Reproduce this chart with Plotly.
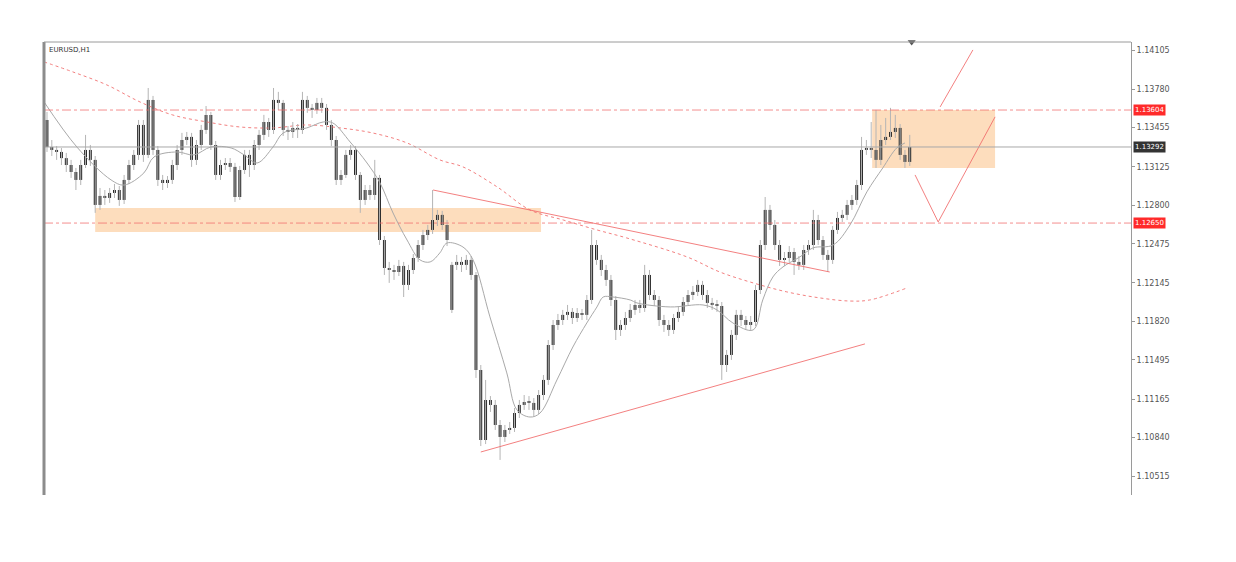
import plotly.graph_objects as go

# ---------------- data (EURUSD H1) ----------------
first_open = 1.13520
gap_index = 84
gap_open = 1.11917

closes = [
 1.13292,1.13267,1.13250,1.13198,1.13140,1.13081,1.13014,1.13140,1.13267,1.13183,
 1.12803,1.12879,1.12862,1.12904,1.12929,1.12845,1.13014,1.13140,1.13225,1.13478,
 1.13225,1.13689,1.13267,1.13014,1.12988,1.13014,1.13140,1.13267,1.13351,1.13377,
 1.13183,1.13309,1.13436,1.13562,1.13309,1.13056,1.13140,1.13157,1.13124,1.12870,
 1.13098,1.13225,1.13140,1.13309,1.13394,1.13503,1.13436,1.13689,1.13664,1.13436,
 1.13419,1.13453,1.13436,1.13689,1.13622,1.13605,1.13664,1.13622,1.13478,1.13351,
 1.13014,1.13056,1.13225,1.13267,1.13056,1.12845,1.12929,1.12887,1.13031,1.12507,
 1.12271,1.12254,1.12237,1.12288,1.12128,1.12254,1.12355,1.12465,1.12549,1.12592,
 1.12676,1.12719,1.12634,1.12507,1.12297,1.12322,1.12297,1.12339,1.12212,1.11410,
 1.10819,1.11157,1.11115,1.10946,1.10845,1.10904,1.10921,1.11047,1.11115,1.11140,
 1.11132,1.11073,1.11199,1.11326,1.11621,1.11790,1.11832,1.11875,1.11900,1.11849,
 1.11891,1.11875,1.12001,1.12465,1.12339,1.12254,1.12170,1.12001,1.11748,1.11790,
 1.11849,1.11917,1.11959,1.11933,1.12212,1.12043,1.12001,1.11832,1.11790,1.11748,
 1.11849,1.11900,1.11984,1.12043,1.12069,1.12128,1.12043,1.11976,1.11959,1.11950,
 1.11452,1.11537,1.11706,1.11875,1.11832,1.11790,1.11815,1.12085,1.12465,1.12761,
 1.12634,1.12465,1.12339,1.12355,1.12406,1.12322,1.12297,1.12423,1.12465,1.12676,
 1.12507,1.12381,1.12339,1.12592,1.12693,1.12719,1.12803,1.12845,1.12971,1.13267,
 1.13284,1.13267,1.13183,1.13351,1.13377,1.13419,1.13453,1.13225,1.13166,1.13292,
]

highs = [
 1.13588,1.13351,1.13300,1.13283,1.13242,1.13183,1.13115,1.13183,1.13394,1.13309,
 1.13216,1.12946,1.12929,1.12946,1.12980,1.12963,1.13056,1.13183,1.13267,1.13520,
 1.13520,1.13790,1.13723,1.13300,1.13056,1.13047,1.13183,1.13309,1.13411,1.13419,
 1.13411,1.13351,1.13478,1.13638,1.13588,1.13343,1.13183,1.13199,1.13199,1.13158,
 1.13132,1.13267,1.13267,1.13351,1.13436,1.13563,1.13537,1.13790,1.13757,1.13689,
 1.13469,1.13503,1.13486,1.13757,1.13723,1.13655,1.13706,1.13706,1.13655,1.13520,
 1.13385,1.13098,1.13267,1.13309,1.13300,1.13081,1.12971,1.12971,1.13183,1.13056,
 1.12541,1.12322,1.12297,1.12339,1.12322,1.12297,1.12389,1.12507,1.12592,1.12634,
 1.12929,1.12761,1.12753,1.12676,1.12322,1.12381,1.12364,1.12381,1.12372,1.12237,
 1.11452,1.11326,1.11190,1.11157,1.10988,1.10946,1.10971,1.11089,1.11157,1.11199,
 1.11190,1.11173,1.11241,1.11368,1.11663,1.11832,1.11883,1.11917,1.11959,1.11933,
 1.11933,1.11925,1.12043,1.12592,1.12507,1.12381,1.12297,1.12212,1.12034,1.11832,
 1.11900,1.11967,1.12001,1.12001,1.12297,1.12254,1.12085,1.12034,1.11875,1.11832,
 1.11883,1.11950,1.12026,1.12085,1.12119,1.12170,1.12162,1.12085,1.12018,1.12001,
 1.11984,1.11579,1.11748,1.11917,1.11917,1.11866,1.11866,1.12128,1.12507,1.12870,
 1.12803,1.12676,1.12507,1.12406,1.12456,1.12440,1.12372,1.12465,1.12507,1.12761,
 1.12719,1.12541,1.12423,1.12625,1.12744,1.12761,1.12845,1.12887,1.13014,1.13377,
 1.13351,1.13503,1.13605,1.13478,1.13537,1.13622,1.13563,1.13486,1.13267,1.13394,
]

lows = [
 1.13250,1.13216,1.13183,1.13140,1.13081,1.13031,1.12929,1.12971,1.13115,1.13132,
 1.12736,1.12761,1.12803,1.12820,1.12862,1.12795,1.12811,1.12980,1.13098,1.13183,
 1.13166,1.13199,1.13225,1.12963,1.12929,1.12946,1.12980,1.13098,1.13225,1.13309,
 1.13124,1.13140,1.13267,1.13402,1.13267,1.13014,1.13014,1.13098,1.13081,1.12828,
 1.12845,1.13064,1.13039,1.13098,1.13267,1.13351,1.13377,1.13402,1.13605,1.13385,
 1.13351,1.13368,1.13368,1.13402,1.13580,1.13537,1.13571,1.13580,1.13436,1.13300,
 1.12971,1.12971,1.13031,1.13183,1.13014,1.12736,1.12803,1.12845,1.12845,1.12465,
 1.12212,1.12145,1.12170,1.12203,1.12026,1.12085,1.12220,1.12322,1.12423,1.12507,
 1.12558,1.12625,1.12592,1.12456,1.11891,1.12254,1.12237,1.12254,1.12170,1.11343,
 1.10768,1.10785,1.11056,1.10904,1.10651,1.10802,1.10870,1.10887,1.11005,1.11073,
 1.11073,1.11022,1.11039,1.11157,1.11284,1.11579,1.11748,1.11790,1.11832,1.11798,
 1.11815,1.11832,1.11832,1.11967,1.12297,1.12203,1.12119,1.11950,1.11663,1.11697,
 1.11748,1.11815,1.11875,1.11891,1.11900,1.12001,1.11950,1.11781,1.11731,1.11697,
 1.11714,1.11815,1.11866,1.11950,1.12001,1.12034,1.12001,1.11933,1.11917,1.11900,
 1.11326,1.11393,1.11495,1.11663,1.11781,1.11748,1.11748,1.11781,1.12051,1.12423,
 1.12592,1.12423,1.12288,1.12288,1.12322,1.12212,1.12254,1.12254,1.12381,1.12423,
 1.12465,1.12339,1.12237,1.12305,1.12558,1.12659,1.12676,1.12761,1.12803,1.12929,
 1.13225,1.13199,1.13115,1.13140,1.13309,1.13351,1.13368,1.13183,1.13115,1.13132,
]

# fast moving average (grey), read at sample bars
fast_ma_x = [-0.6, 6.2, 13.3, 16, 20.1, 22.2, 27, 30.5, 34, 38.2, 40.9, 43.6, 46.9, 49,
             53.9, 57.3, 59.3, 62.9, 66.4, 69.1, 71.8, 74.7, 77.4, 79.5, 81.5, 83, 86.3,
             88.4, 91.9, 95.4, 97.5, 100.2, 102.3, 105.8, 109.1, 112, 114.1, 115.4, 117.4,
             121, 122.4, 129.3, 136.1, 139, 142.3, 146.5, 148.5, 150.6, 152.7, 156.2,
             158.9, 163.1, 166.6, 170.1, 173.4, 176.3, 178]
fast_ma_y = [1.13672, 1.13292, 1.13014, 1.12971, 1.13073, 1.13208, 1.13250, 1.13225, 1.13292,
             1.13284, 1.13225, 1.13157, 1.13292, 1.13410, 1.13453, 1.13503, 1.13495, 1.13334,
             1.13157, 1.12988, 1.12735, 1.12507, 1.12339, 1.12322, 1.12398, 1.12482, 1.12448,
             1.12339, 1.11858, 1.11385, 1.11073, 1.11013, 1.11047, 1.11326, 1.11604, 1.11807,
             1.11942, 1.12026, 1.12026, 1.12001, 1.11976, 1.11942, 1.11959, 1.11917, 1.11807,
             1.11748, 1.12001, 1.12195, 1.12280, 1.12364, 1.12440, 1.12465, 1.12634, 1.12913,
             1.13115, 1.13284, 1.13326]

# slow moving average (red dotted)
slow_ma_x = [-0.6, 5.4, 12.4, 19.3, 26.1, 33.2, 40, 46.9, 53.9, 60.8, 67.6, 74.7, 81.5, 86.3,
             93.4, 100.2, 107.1, 114.1, 120.3, 132.8, 139.6, 146.5, 153.5, 160.4, 166.6,
             170.7, 178.4]
slow_ma_y = [1.14010, 1.13925, 1.13816, 1.13672, 1.13562, 1.13503, 1.13461, 1.13453, 1.13478,
             1.13453, 1.13410, 1.13326, 1.13183, 1.13124, 1.12955, 1.12761, 1.12676, 1.12592,
             1.12524, 1.12364, 1.12237, 1.12145, 1.12069, 1.12018, 1.11992, 1.12001, 1.12102]

# levels and drawings
level_resistance = 1.13604
level_support = 1.12650
last_price = 1.13292

zone_low_x = [10.0, 102.5]
zone_low_y = [1.12575, 1.12777]
zone_high_x = [171.2, 196.7]
zone_high_y = [1.13115, 1.13605]

trend_upper_x = [80.1, 162.4]
trend_upper_y = [1.12929, 1.12237]
trend_lower_x = [90.0, 169.7]
trend_lower_y = [1.10718, 1.11630]
proj_x = [180.1, 184.9, 196.7]
proj_y = [1.13056, 1.12659, 1.13546]
proj_up_x = [185.3, 192.1]
proj_up_y = [1.13630, 1.14111]

tick_vals = [1.14105, 1.13780, 1.13455, 1.13125, 1.12800, 1.12475, 1.12145,
             1.11820, 1.11495, 1.11165, 1.10840, 1.10515]

symbol = "EURUSD,H1"

# ---------------- figure ----------------
n = len(closes)
idx = list(range(n))
opens = [first_open] + closes[:-1]
opens[gap_index] = gap_open

X_RANGE = [-0.62, 224.9]
Y_RANGE = [1.10355, 1.14178]

RED = "#F26B6B"
PEACH = "#FDDDBD"

fig = go.Figure()

# zones
for zx, zy in ((zone_low_x, zone_low_y), (zone_high_x, zone_high_y)):
    fig.add_shape(type="rect", x0=zx[0], x1=zx[1], y0=zy[0], y1=zy[1],
                  xref="x", yref="y", fillcolor=PEACH, line=dict(width=0), layer="below")

# horizontal levels
for lv in (level_resistance, level_support):
    fig.add_shape(type="line", x0=0, x1=1, xref="paper", y0=lv, y1=lv, yref="y",
                  line=dict(color=RED, width=1, dash="dashdot"), opacity=0.75)
fig.add_shape(type="line", x0=0, x1=1, xref="paper", y0=last_price, y1=last_price, yref="y",
              line=dict(color="#A8A8A8", width=1))

# slow MA
fig.add_trace(go.Scatter(x=slow_ma_x, y=slow_ma_y, mode="lines",
                         line=dict(color=RED, width=1, dash="dot", shape="spline"),
                         opacity=0.85, hoverinfo="skip"))

# wicks
wx, wy = [], []
for i in idx:
    wx += [i, i, None]
    wy += [lows[i], highs[i], None]
fig.add_trace(go.Scatter(x=wx, y=wy, mode="lines", line=dict(color="#B5B5B5", width=1),
                         hoverinfo="skip"))

# fast MA
fig.add_trace(go.Scatter(x=fast_ma_x, y=fast_ma_y, mode="lines",
                         line=dict(color="#A9A9A9", width=1, shape="spline"), hoverinfo="skip"))

# bodies
base = [min(o, c) for o, c in zip(opens, closes)]
height = [max(abs(c - o), 0.00004) for o, c in zip(opens, closes)]
fig.add_trace(go.Bar(x=idx, y=height, base=base, width=0.6,
                     marker=dict(color="#262626", line=dict(width=0)), hoverinfo="skip"))

# trend lines
for tx, ty in ((trend_upper_x, trend_upper_y), (trend_lower_x, trend_lower_y),
               (proj_x, proj_y), (proj_up_x, proj_up_y)):
    fig.add_trace(go.Scatter(x=tx, y=ty, mode="lines", line=dict(color=RED, width=1),
                             opacity=0.85, hoverinfo="skip"))

# small marker at top
fig.add_trace(go.Scatter(x=[179.4], y=[Y_RANGE[1]], mode="markers", cliponaxis=False,
                         marker=dict(symbol="triangle-down", size=7, color="#555555"),
                         hoverinfo="skip"))

# borders
fig.add_shape(type="line", xref="paper", yref="paper", x0=0, x1=0, y0=0, y1=1,
              line=dict(color="#8C8C8C", width=3))
fig.add_shape(type="line", xref="paper", yref="paper", x0=0, x1=1, y0=1, y1=1,
              line=dict(color="#9A9A9A", width=1))

# price tags
for val, col in ((level_resistance, "#FF2A2A"), (last_price, "#333333"), (level_support, "#FF2A2A")):
    fig.add_annotation(xref="paper", x=1.0, xanchor="left", xshift=2, yref="y", y=val,
                       text=f"{val:.5f}", showarrow=False, bgcolor=col,
                       font=dict(color="white", size=7, family="DejaVu Sans"),
                       borderpad=1)

fig.add_annotation(xref="paper", yref="paper", x=0.003, y=0.995, xanchor="left", yanchor="top",
                   text=symbol, showarrow=False,
                   font=dict(size=7, color="#333333", family="DejaVu Sans"))

# the html page body has an 8px margin, so the margins below are offset by it
fig.update_layout(
    width=1236, height=562,
    margin=dict(l=36, r=113, t=34, b=75),
    paper_bgcolor="white", plot_bgcolor="white",
    showlegend=False, barmode="overlay",
    xaxis=dict(range=X_RANGE, showgrid=False, zeroline=False, showticklabels=False,
               showline=False, ticks=""),
    yaxis=dict(range=Y_RANGE, side="right", showgrid=False, zeroline=False,
               tickvals=tick_vals, ticktext=[f"{v:.5f}" for v in tick_vals],
               ticks="outside", ticklen=3, tickcolor="#999999",
               showline=True, linecolor="#9A9A9A", linewidth=1,
               tickfont=dict(size=8, color="#555555", family="DejaVu Sans")),
)

fig.write_html("out.html")
